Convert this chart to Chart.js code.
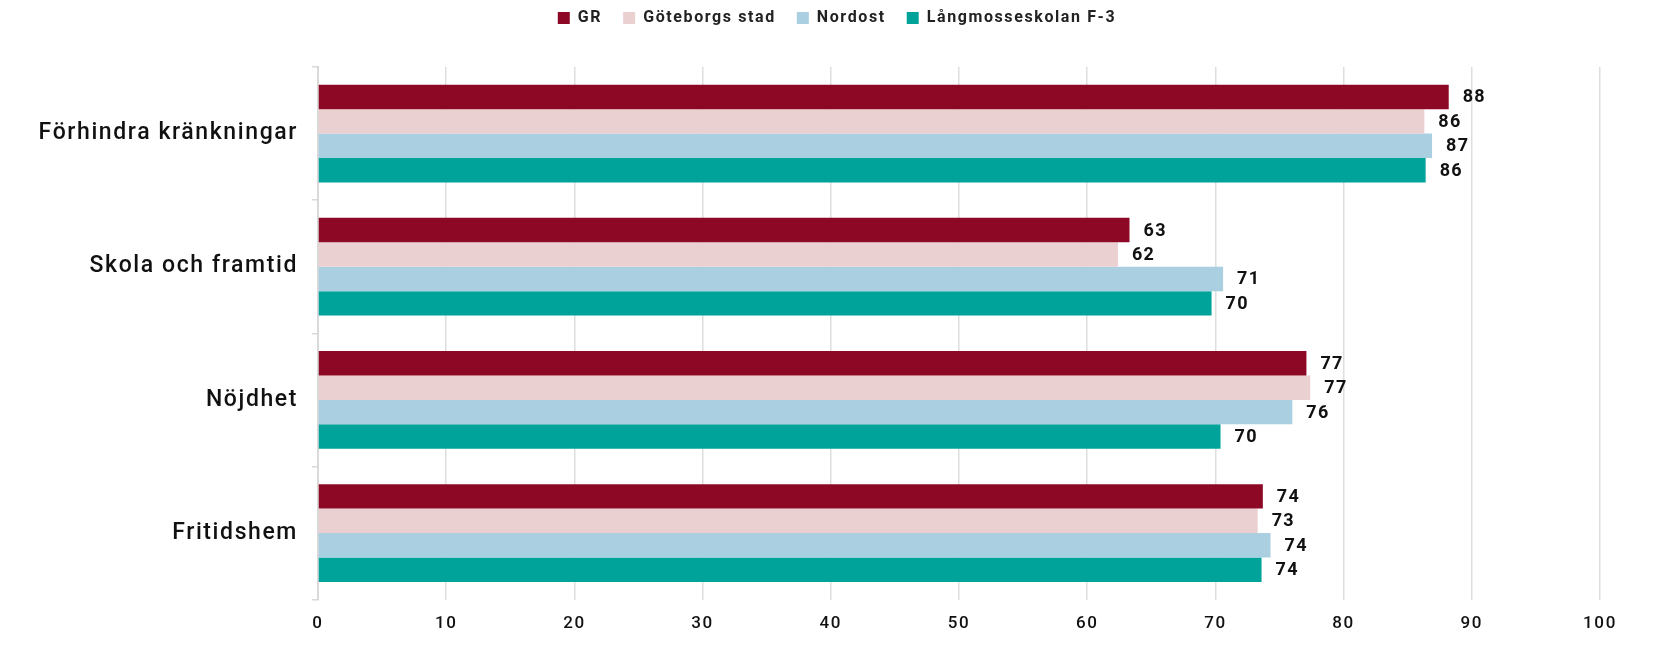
<!DOCTYPE html>
<html>
<head>
<meta charset="utf-8">
<script src="https://cdn.jsdelivr.net/npm/chart.js@4.4.1/dist/chart.umd.min.js"></script>
<style>
  html, body { margin: 0; padding: 0; background: #fff; }
  #wrap { width: 1661px; height: 650px; position: relative; }
</style>
</head>
<body>
<div id="wrap"><canvas id="chart"></canvas></div>
<script>
'use strict';

// Kategorier och serier
const categories = ["Förhindra kränkningar", "Skola och framtid", "Nöjdhet", "Fritidshem"];
const seriesNames = ["GR", "Göteborgs stad", "Nordost", "Långmosseskolan F-3"];
const grValues = [88.2, 63.3, 77.1, 73.7];
const goteborgValues = [86.3, 62.4, 77.4, 73.3];
const nordostValues = [86.9, 70.6, 76.0, 74.3];
const langmosseValues = [86.4, 69.7, 70.4, 73.6];
const seriesColors = ["#8c0824", "#ebd0d2", "#a9cfe0", "#00a39a"];
const xTicks = [0, 10, 20, 30, 40, 50, 60, 70, 80, 90, 100];

const FONT = "Roboto, 'Liberation Sans', Arial, sans-serif";
Chart.defaults.font.family = FONT;
Chart.defaults.color = "#111";

// Bokstavsavstånd för all text på canvasen
const spacingPlugin = {
  id: "spacing",
  beforeUpdate: (chart) => { chart.ctx.letterSpacing = "1.6px"; },
  beforeDraw: (chart) => { chart.ctx.letterSpacing = "1.6px"; },
};

// Extra luft under legenden, och legenden lite åt höger
const legendMargin = {
  id: "legendMargin",
  beforeInit(chart) {
    const legend = chart.legend;
    const fit = legend.fit;
    legend.fit = function () {
      fit.call(legend);
      this.height += 31;
    };
    const draw = legend.draw;
    legend.draw = function (area) {
      const ctx = this.ctx;
      ctx.save();
      ctx.translate(37, 0);
      draw.call(legend, area);
      ctx.restore();
    };
  },
};

// Värdeetiketter till höger om staplarna
const valueLabels = {
  id: "valueLabels",
  afterDatasetsDraw(chart) {
    const ctx = chart.ctx;
    ctx.save();
    ctx.letterSpacing = "1.3px";
    ctx.font = "bold 18px " + FONT;
    ctx.fillStyle = "#111";
    ctx.textAlign = "left";
    ctx.textBaseline = "middle";
    chart.data.datasets.forEach((ds, i) => {
      const meta = chart.getDatasetMeta(i);
      meta.data.forEach((bar, j) => {
        ctx.fillText(String(Math.round(ds.data[j])), bar.x + 14, bar.y + 1);
      });
    });
    ctx.restore();
  },
};

const allValues = [grValues, goteborgValues, nordostValues, langmosseValues];

new Chart(document.getElementById("chart"), {
  type: "bar",
  data: {
    labels: categories,
    datasets: seriesNames.map((name, i) => ({
      label: name,
      data: allValues[i],
      backgroundColor: seriesColors[i],
      borderWidth: 0,
      categoryPercentage: 0.734,
      barPercentage: 1.0,
    })),
  },
  options: {
    indexAxis: "y",
    responsive: true,
    maintainAspectRatio: false,
    animation: false,
    layout: { padding: { top: -11, right: 61, bottom: 2, left: 0 } },
    plugins: {
      legend: {
        position: "top",
        labels: {
          boxWidth: 12,
          boxHeight: 12,
          padding: 21,
          font: { size: 16, weight: "bold" },
          color: "#222",
        },
      },
      tooltip: { enabled: false },
    },
    scales: {
      x: {
        min: 0,
        max: 100,
        afterBuildTicks: (scale) => { scale.ticks = xTicks.map((v) => ({ value: v })); },
        grid: { color: "#dedede", lineWidth: 1.5, drawTicks: false },
        border: { display: false },
        ticks: { font: { size: 17, weight: "500" }, padding: 14, color: "#111" },
      },
      y: {
        afterFit: (scale) => { scale.width = 318; },
        grid: { offset: true, drawOnChartArea: false, drawTicks: true, tickLength: 6, color: "#d9d9d9", lineWidth: 1.5 },
        border: { display: true, color: "#d9d9d9", width: 2 },
        ticks: { font: { size: 23, weight: "500" }, padding: 14, color: "#111" },
      },
    },
  },
  plugins: [spacingPlugin, legendMargin, valueLabels],
});
</script>
</body>
</html>
